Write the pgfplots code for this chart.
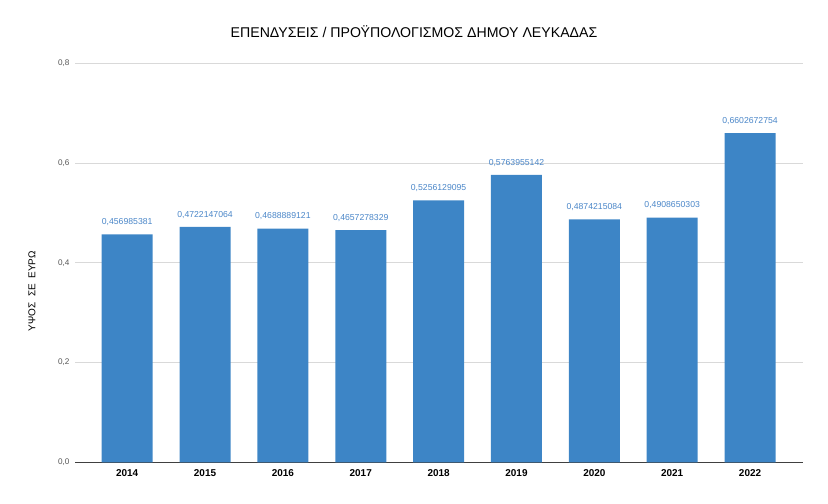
\documentclass[border=0pt]{standalone}
\usepackage{pgfplots}
\pgfplotsset{compat=1.18}
\usepackage{pgfplotstable}
\usepackage{fontspec}
\setmainfont{Liberation Sans}
\definecolor{barblue}{HTML}{3D85C6}
\definecolor{lblblue}{HTML}{4A86C8}
\definecolor{gridgray}{HTML}{D9D9D9}
\definecolor{ticktext}{HTML}{555555}
\pgfplotstableread{
x y lab
0 0.456985381 0,456985381
1 0.4722147064 0,4722147064
2 0.4688889121 0,4688889121
3 0.4657278329 0,4657278329
4 0.5256129095 0,5256129095
5 0.5763955142 0,5763955142
6 0.4874215084 0,4874215084
7 0.4908650303 0,4908650303
8 0.6602672754 0,6602672754
}\datatable
\begin{document}
\begin{tikzpicture}
\useasboundingbox (0,0) rectangle (828bp,504bp);
\begin{axis}[
  at={(75bp,41.7bp)}, anchor=south west,
  scale only axis, width=728bp, height=398.8bp,
  ymin=0, ymax=0.8, xmin=-0.67, xmax=8.68,
  ybar, bar width=51bp,
  xtick=data,
  xticklabels={2014,2015,2016,2017,2018,2019,2020,2021,2022},
  xticklabel style={font=\fontsize{10}{11}\selectfont\bfseries, text=black, yshift=-4bp},
  ytick={0,0.2,0.4,0.6,0.8},
  yticklabel style={font=\fontsize{8.2}{9}\selectfont, text=ticktext,
    /pgf/number format/.cd, use comma, fixed, fixed zerofill, precision=1, assume math mode=true},
  /pgf/number format/assume math mode=true,
  ymajorgrids, major grid style={gridgray, line width=0.8bp},
  axis x line*=bottom, axis y line*=left,
  y axis line style={draw=none},
  x axis line style={draw=black!75, line width=0.9bp},
  major tick length=0pt,
  xtick style={draw=none}, ytick style={draw=none},
  yticklabel shift=2bp,
  point meta=explicit symbolic,
  nodes near coords,
  nodes near coords style={font=\fontsize{8.7}{10}\selectfont, text=lblblue, anchor=south, yshift=5bp},
  clip=false,
]
\addplot[fill=barblue, draw=none] table[x=x, y=y, meta=lab] {\datatable};
\end{axis}
\node[font=\fontsize{14.2}{16}\selectfont] at (414bp,472bp) {ΕΠΕΝΔΥΣΕΙΣ / ΠΡΟΫΠΟΛΟΓΙΣΜΟΣ ΔΗΜΟΥ ΛΕΥΚΑΔΑΣ};
\node[rotate=90, font=\fontsize{10}{12}\selectfont] at (32bp,213bp) {ΥΨΟΣ\ \ ΣΕ\ \ ΕΥΡΩ};
\end{tikzpicture}
\end{document}
